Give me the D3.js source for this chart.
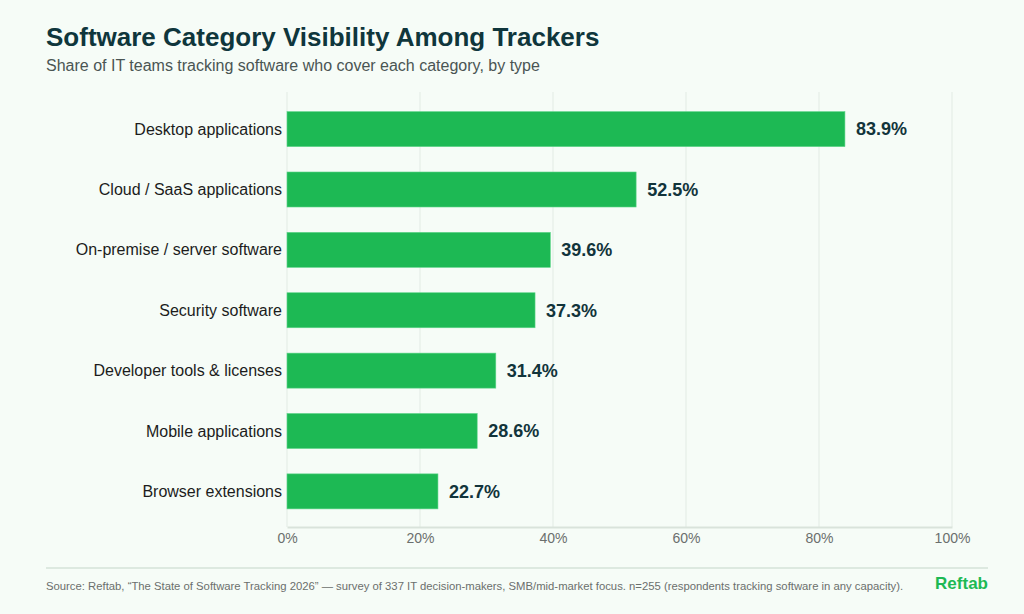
<!DOCTYPE html>
<html lang="en">
<head>
<meta charset="UTF-8">
<title>Software Category Visibility Among Trackers</title>
<script src="https://cdn.jsdelivr.net/npm/d3@7/dist/d3.min.js"></script>
<style>
  html, body { margin: 0; padding: 0; background: #f6fcf7; }
  svg { display: block; font-family: "Liberation Sans", Arial, sans-serif; }
</style>
</head>
<body>
<div id="chart"></div>
<script>
// data
const categories = [
  "Desktop applications",
  "Cloud / SaaS applications",
  "On-premise / server software",
  "Security software",
  "Developer tools & licenses",
  "Mobile applications",
  "Browser extensions"
];
const shares = [83.9, 52.5, 39.6, 37.3, 31.4, 28.6, 22.7];
const tickValues = [0, 20, 40, 60, 80, 100];

const width = 1024, height = 614;
const margin = { left: 287, right: 72, top: 93.5, bottom: 87 };

const svg = d3.select("#chart").append("svg")
  .attr("width", width)
  .attr("height", height);

svg.append("rect").attr("width", width).attr("height", height).attr("fill", "#f6fcf7");

// titles
svg.append("text")
  .attr("x", 46).attr("y", 46)
  .attr("font-size", 26).attr("font-weight", "bold")
  .attr("fill", "#0f363c")
  .text("Software Category Visibility Among Trackers");
svg.append("text")
  .attr("x", 46).attr("y", 71)
  .attr("font-size", 16)
  .attr("fill", "#4a5553")
  .text("Share of IT teams tracking software who cover each category, by type");

const x = d3.scaleLinear().domain([0, 100]).range([margin.left, width - margin.right]);
const y = d3.scaleBand().domain(categories)
  .range([margin.top, height - margin.bottom])
  .paddingInner(0.42).paddingOuter(0.3);

// gridlines
svg.append("g")
  .selectAll("line")
  .data(tickValues)
  .join("line")
  .attr("x1", d => x(d)).attr("x2", d => x(d))
  .attr("y1", 92).attr("y2", height - margin.bottom)
  .attr("stroke", "#e2ebe4").attr("stroke-width", 1);

// x axis
const xAxis = svg.append("g")
  .attr("transform", `translate(0,${height - margin.bottom})`)
  .call(d3.axisBottom(x).tickValues(tickValues).tickFormat(d => d + "%").tickSize(0).tickPadding(6));
xAxis.select(".domain").attr("stroke", "#d9e3db").attr("stroke-width", 2);
xAxis.selectAll("text")
  .attr("font-size", 14).attr("fill", "#6b6f6d")
  .attr("font-family", "Liberation Sans, Arial, sans-serif");

// bars
svg.append("g")
  .selectAll("rect")
  .data(categories)
  .join("rect")
  .attr("x", x(0))
  .attr("y", d => y(d))
  .attr("width", (d, i) => x(shares[i]) - x(0))
  .attr("height", y.bandwidth())
  .attr("fill", "#1db954")
  .attr("stroke", "#5fd58a").attr("stroke-width", 0.6);

// category labels
svg.append("g")
  .selectAll("text")
  .data(categories)
  .join("text")
  .attr("x", x(0) - 5)
  .attr("y", d => y(d) + y.bandwidth() / 2)
  .attr("dy", "0.35em")
  .attr("text-anchor", "end")
  .attr("font-size", 16)
  .attr("fill", "#1c1c1c")
  .text(d => d);

// value labels
svg.append("g")
  .selectAll("text")
  .data(categories)
  .join("text")
  .attr("x", (d, i) => x(shares[i]) + 11)
  .attr("y", d => y(d) + y.bandwidth() / 2)
  .attr("dy", "0.35em")
  .attr("font-size", 18).attr("font-weight", "bold")
  .attr("fill", "#12343b")
  .text((d, i) => shares[i].toFixed(1) + "%");

// footer
svg.append("line")
  .attr("x1", 46).attr("x2", 988)
  .attr("y1", 568).attr("y2", 568)
  .attr("stroke", "#d5e3d8").attr("stroke-width", 1.5);
svg.append("text")
  .attr("x", 46).attr("y", 590)
  .attr("font-size", 11.3)
  .attr("fill", "#6b6f6d")
  .text("Source: Reftab, \u201cThe State of Software Tracking 2026\u201d \u2014 survey of 337 IT decision-makers, SMB/mid-market focus. n=255 (respondents tracking software in any capacity).");
svg.append("text")
  .attr("x", 988).attr("y", 589)
  .attr("text-anchor", "end")
  .attr("font-size", 17).attr("font-weight", "bold")
  .attr("fill", "#1db954")
  .text("Reftab");
</script>
</body>
</html>
